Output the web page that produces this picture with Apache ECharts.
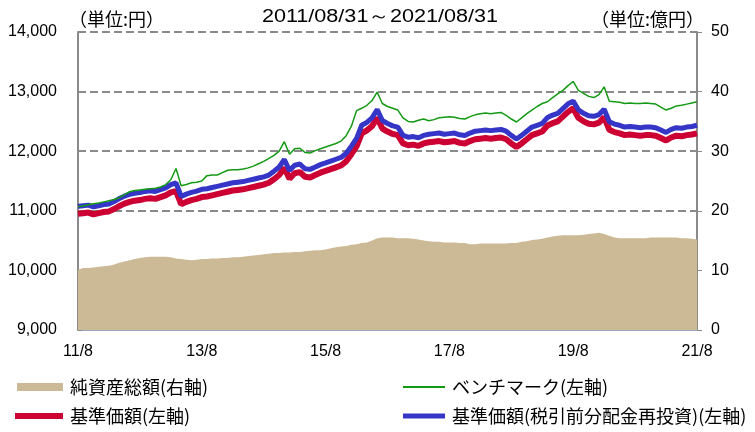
<!DOCTYPE html>
<html><head><meta charset="utf-8">
<script src="https://cdn.jsdelivr.net/npm/echarts@6/dist/echarts.min.js"></script>
<style>html,body{margin:0;padding:0;background:#fff}#c{width:755px;height:432px}</style>
</head><body><div id="c"></div>
<script>
var startYear = 2011, startMonth = 8, monthCount = 121;
var categories = [];
for (var i = 0; i < monthCount; i++) {
  var mm = startMonth - 1 + i;
  var y = startYear + Math.floor(mm / 12), m = (mm % 12) + 1;
  categories.push(y + '/' + (m < 10 ? '0' + m : m));
}
var leftTicks = [9000, 10000, 11000, 12000, 13000, 14000];
var rightTicks = [0, 10, 20, 30, 40, 50];

var navRed = [10950,10960,10970,10940,10960,10980,10990,11030,11080,11120,
11150,11170,11180,11200,11210,11200,11230,11260,11310,11330,
11110,11150,11180,11200,11230,11240,11260,11280,11300,11320,
11340,11350,11360,11380,11400,11420,11440,11470,11530,11600,
11720,11540,11630,11650,11570,11560,11600,11640,11670,11700,
11730,11760,11830,11950,12080,12300,12350,12420,12560,12380,
12330,12290,12270,12130,12100,12110,12090,12130,12150,12160,
12170,12150,12160,12170,12140,12130,12170,12200,12210,12220,
12210,12220,12230,12200,12130,12070,12130,12200,12270,12300,
12330,12430,12470,12500,12580,12660,12720,12560,12500,12460,
12450,12480,12570,12360,12320,12300,12270,12280,12270,12260,
12270,12270,12260,12220,12180,12230,12260,12250,12270,12280,
12300];

var navBlue = [11075,11085,11095,11065,11085,11105,11115,11155,11205,11245,
11275,11295,11305,11325,11335,11325,11355,11385,11440,11470,
11240,11280,11310,11330,11360,11370,11390,11410,11430,11450,
11470,11480,11490,11510,11530,11550,11570,11600,11665,11735,
11860,11675,11765,11785,11705,11695,11735,11775,11805,11835,
11865,11895,11965,12085,12215,12435,12485,12560,12700,12515,
12465,12425,12405,12265,12235,12245,12225,12265,12285,12295,
12305,12285,12295,12305,12275,12265,12305,12335,12345,12355,
12345,12355,12365,12335,12265,12205,12265,12335,12405,12435,
12465,12565,12605,12635,12715,12795,12840,12695,12635,12595,
12585,12615,12705,12495,12455,12435,12405,12415,12405,12395,
12405,12405,12395,12355,12315,12365,12395,12385,12405,12415,
12435];

var benchmark = [11070,11080,11100,11120,11130,11150,11170,11190,11220,11270,
11320,11340,11350,11360,11370,11380,11400,11440,11520,11710,
11420,11440,11470,11480,11500,11590,11600,11600,11640,11680,
11690,11690,11700,11720,11750,11790,11830,11880,11930,12000,
12160,11950,12040,12050,11980,11970,12010,12040,12070,12100,
12130,12170,12260,12420,12680,12720,12770,12850,12990,12800,
12750,12720,12690,12560,12500,12490,12520,12540,12510,12530,
12560,12570,12580,12570,12550,12540,12580,12610,12630,12640,
12630,12640,12650,12600,12540,12490,12560,12630,12690,12750,
12800,12830,12900,12960,13020,13100,13170,13020,12970,12920,
12900,12950,13080,12840,12830,12820,12800,12810,12800,12800,
12810,12800,12790,12740,12690,12720,12760,12770,12790,12810,
12830];

var netAssets = [10.1,10.4,10.4,10.5,10.6,10.7,10.8,11.0,11.3,11.5,
11.7,11.9,12.1,12.2,12.3,12.3,12.3,12.3,12.2,12.0,
11.9,11.8,11.7,11.8,11.9,11.9,12.0,12.0,12.1,12.1,
12.2,12.2,12.3,12.4,12.5,12.6,12.7,12.8,12.9,12.9,
13.0,13.0,13.1,13.1,13.2,13.3,13.4,13.4,13.5,13.7,
13.9,14.0,14.1,14.3,14.4,14.6,14.7,15.0,15.4,15.5,
15.5,15.5,15.4,15.4,15.4,15.3,15.2,15.0,14.9,14.8,
14.8,14.7,14.7,14.7,14.6,14.6,14.4,14.4,14.5,14.5,
14.5,14.5,14.5,14.5,14.6,14.6,14.8,14.9,15.1,15.2,
15.3,15.5,15.7,15.8,15.9,15.9,15.9,15.9,16.0,16.1,
16.2,16.3,16.1,15.8,15.5,15.4,15.4,15.4,15.4,15.4,
15.4,15.5,15.5,15.5,15.5,15.5,15.5,15.4,15.4,15.3,
15.2];

var names = ['純資産総額(右軸)', '基準価額(左軸)', '基準価額(税引前分配金再投資)(左軸)', 'ベンチマーク(左軸)'];
var titleText = '2011/08/31～2021/08/31';
var unitLeft = '（単位:円）', unitRight = '（単位:億円）';
var colors = {tan: '#CCBA96', red: '#CC0033', blue: '#3535C8', green: '#149A14'};
var numFont = 'Liberation Sans';
var cjkFont = '"Noto Sans CJK JP"';

var chart = echarts.init(document.getElementById('c'), null, {renderer: 'canvas'});
var legendText = {fontFamily: cjkFont, fontSize: 18, color: '#000', padding: [0, 0, 0, 2]};
function leg(name, left, top, w, h, color) {
  return {data: [{name: name, icon: 'rect', itemStyle: {color: color}}], left: left, top: top, padding: 0,
    itemWidth: w, itemHeight: h, textStyle: legendText, selectedMode: false};
}
chart.setOption({
  animation: false,
  backgroundColor: '#fff',
  graphic: [
    {type: 'text', x: 380, y: 17, scaleX: 1.2, style: {text: titleText, font: '18px "Liberation Sans"', fill: '#000', textAlign: 'center', textVerticalAlign: 'middle'}},
    {type: 'text', x: 69, y: 19, style: {text: unitLeft, font: '18px "Noto Sans CJK JP"', fill: '#000', textAlign: 'left', textVerticalAlign: 'middle'}},
    {type: 'text', x: 704, y: 19, style: {text: unitRight, font: '18px "Noto Sans CJK JP"', fill: '#000', textAlign: 'right', textVerticalAlign: 'middle'}}
  ],
  legend: [
    leg(names[0], 17, 378, 46, 8, colors.tan),
    leg(names[1], 15, 407, 48, 6, colors.red),
    leg(names[3], 403, 378, 42, 2, colors.green),
    leg(names[2], 403, 407, 42, 5, colors.blue)
  ],
  grid: {left: 78, right: 58, top: 32, bottom: 102, containLabel: false},
  xAxis: {
    type: 'category', data: categories, boundaryGap: false,
    axisLine: {lineStyle: {color: '#9AA8BC', width: 2}},
    axisTick: {inside: true, length: 4, lineStyle: {color: '#8A8A8A', width: 1.5},
      interval: function (idx) { return idx % 24 === 0; }},
    axisLabel: {
      interval: function (idx) { return idx % 24 === 0; },
      formatter: function (v) { var p = v.split('/'); return p[0].slice(2) + '/' + parseInt(p[1], 10); },
      fontFamily: numFont, fontSize: 16, color: '#000', margin: 14
    },
    splitLine: {show: false}
  },
  yAxis: [
    {
      type: 'value', min: leftTicks[0], max: leftTicks[leftTicks.length - 1], interval: 1000,
      axisLine: {show: true, lineStyle: {color: '#8A8A8A', width: 2}},
      axisTick: {show: true, inside: true, length: 4, lineStyle: {color: '#8A8A8A'}},
      axisLabel: {formatter: function (v) { return v.toLocaleString('en-US'); },
        fontFamily: numFont, fontSize: 16, color: '#000', margin: 21},
      splitLine: {show: true, lineStyle: {color: '#8A8A8A', width: 2, type: [8, 4]}}
    },
    {
      type: 'value', min: rightTicks[0], max: rightTicks[rightTicks.length - 1], interval: 10,
      axisLine: {show: true, lineStyle: {color: '#8A8A8A', width: 2}},
      axisTick: {show: true, inside: false, length: 5, lineStyle: {color: '#8A8A8A'}},
      axisLabel: {fontFamily: numFont, fontSize: 16, color: '#000', margin: 14},
      splitLine: {show: false}
    }
  ],
  series: [
    {name: names[0], type: 'line', yAxisIndex: 1, data: netAssets, symbol: 'none',
      lineStyle: {width: 0, color: colors.tan}, itemStyle: {color: colors.tan},
      areaStyle: {color: colors.tan, opacity: 1}, z: 1},
    {name: names[1], type: 'line', yAxisIndex: 0, data: navRed, symbol: 'none',
      lineStyle: {width: 6, color: colors.red}, itemStyle: {color: colors.red}, z: 2},
    {name: names[2], type: 'line', yAxisIndex: 0, data: navBlue, symbol: 'none',
      lineStyle: {width: 5, color: colors.blue}, itemStyle: {color: colors.blue}, z: 3},
    {name: names[3], type: 'line', yAxisIndex: 0, data: benchmark, symbol: 'none',
      lineStyle: {width: 1.5, color: colors.green}, itemStyle: {color: colors.green}, z: 4}
  ]
});
</script></body></html>
